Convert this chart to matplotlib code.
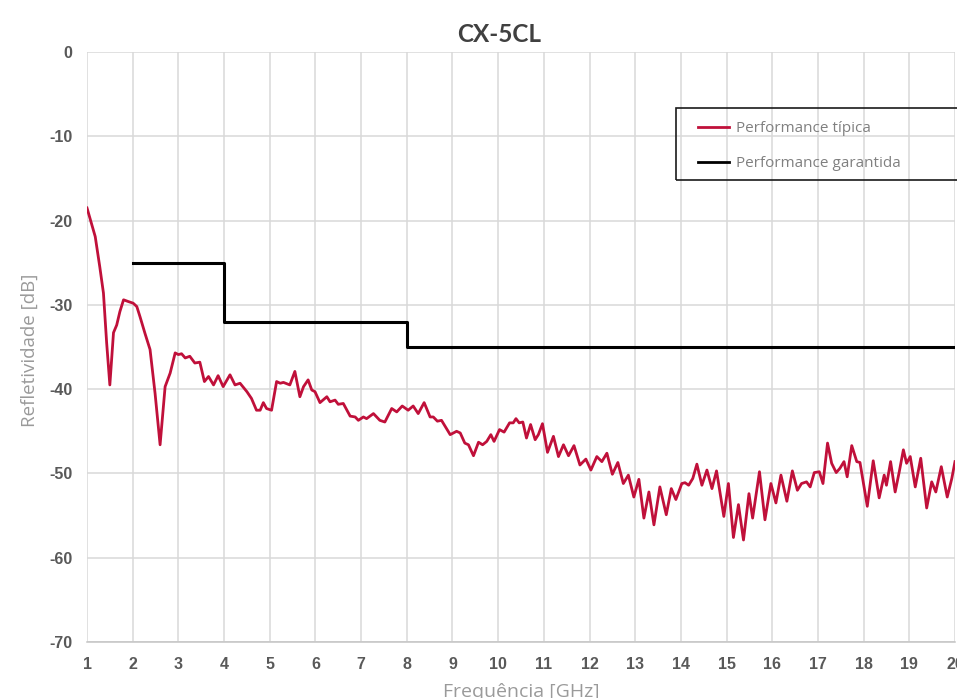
import matplotlib
matplotlib.use("Agg")
import matplotlib.pyplot as plt
from matplotlib.patches import Rectangle


TITLE = "CX-5CL"
X_LABEL = "Frequência [GHz]"
Y_LABEL = "Refletividade [dB]"
LABEL_TYPICAL = "Performance típica"
LABEL_GUARANTEED = "Performance garantida"

X_TICKS = list(range(1, 21))
Y_TICKS = [0, -10, -20, -30, -40, -50, -60, -70]

typical_freq = [
    1.00, 1.18, 1.28, 1.36, 1.43, 1.50, 1.58, 1.65, 1.72, 1.80,
    1.90, 2.01, 2.09, 2.16, 2.27, 2.38, 2.49, 2.60, 2.71, 2.82,
    2.93, 3.00, 3.07, 3.15, 3.25, 3.36, 3.47, 3.57, 3.66, 3.77,
    3.87, 3.98, 4.13, 4.24, 4.35, 4.50, 4.60, 4.71, 4.79, 4.86,
    4.93, 5.04, 5.15, 5.23, 5.30, 5.44, 5.55, 5.66, 5.74, 5.84,
    5.92, 5.99, 6.10, 6.25, 6.32, 6.43, 6.50, 6.61, 6.76, 6.87,
    6.94, 7.05, 7.12, 7.27, 7.41, 7.52, 7.67, 7.78, 7.90, 8.03,
    8.14, 8.25, 8.38, 8.51, 8.58, 8.67, 8.76, 8.95, 9.09, 9.17,
    9.27, 9.35, 9.46, 9.57, 9.66, 9.75, 9.84, 9.91, 10.03, 10.13,
    10.25, 10.33, 10.39, 10.46, 10.54, 10.62, 10.71, 10.81, 10.88, 10.97,
    11.08, 11.21, 11.32, 11.43, 11.54, 11.66, 11.79, 11.92, 12.03, 12.16,
    12.27, 12.38, 12.50, 12.62, 12.74, 12.85, 12.97, 13.08, 13.19, 13.30,
    13.41, 13.54, 13.68, 13.79, 13.89, 14.02, 14.09, 14.17, 14.26, 14.35,
    14.46, 14.57, 14.68, 14.78, 14.94, 15.04, 15.15, 15.26, 15.37, 15.49,
    15.57, 15.72, 15.84, 15.97, 16.08, 16.19, 16.32, 16.44, 16.55, 16.64,
    16.75, 16.83, 16.92, 17.03, 17.11, 17.21, 17.30, 17.40, 17.48, 17.57,
    17.64, 17.74, 17.85, 17.92, 18.08, 18.21, 18.34, 18.45, 18.50, 18.59,
    18.69, 18.78, 18.87, 18.94, 19.02, 19.13, 19.25, 19.38, 19.49, 19.58,
    19.70, 19.83, 19.93, 20.00,
]
typical_db = [
    -18.5, -21.9, -25.5, -28.6, -34.5, -39.5, -33.3, -32.4, -30.8, -29.4,
    -29.6, -29.8, -30.2, -31.4, -33.4, -35.3, -40.5, -46.6, -39.7, -38.1,
    -35.7, -35.9, -35.8, -36.3, -36.1, -36.9, -36.8, -39.1, -38.5, -39.5,
    -38.4, -39.7, -38.3, -39.5, -39.3, -40.3, -41.1, -42.5, -42.5, -41.6,
    -42.3, -42.5, -39.1, -39.3, -39.2, -39.5, -37.9, -40.9, -39.7, -38.9,
    -40.1, -40.3, -41.6, -40.9, -41.5, -41.3, -41.8, -41.7, -43.2, -43.3,
    -43.7, -43.3, -43.5, -42.9, -43.7, -43.9, -42.3, -42.7, -42.0, -42.5,
    -42.0, -42.9, -41.6, -43.3, -43.3, -43.8, -43.7, -45.4, -45.0, -45.2,
    -46.4, -46.6, -47.9, -46.3, -46.6, -46.2, -45.4, -46.2, -44.8, -45.1,
    -44.0, -44.0, -43.5, -44.0, -43.9, -45.8, -44.2, -46.0, -45.4, -44.1,
    -47.5, -45.6, -48.0, -46.6, -47.9, -46.7, -49.0, -48.3, -49.6, -48.0,
    -48.6, -47.6, -50.1, -48.7, -51.2, -50.2, -52.8, -50.7, -55.3, -52.2,
    -56.1, -51.6, -54.9, -51.8, -53.1, -51.2, -51.1, -51.4, -50.6, -48.9,
    -51.4, -49.6, -51.8, -49.7, -55.1, -51.2, -57.6, -53.7, -57.9, -52.4,
    -55.3, -49.8, -55.5, -51.2, -53.5, -50.2, -53.3, -49.7, -52.0, -51.2,
    -51.0, -51.6, -49.9, -49.8, -51.2, -46.4, -48.8, -49.9, -49.4, -48.6,
    -50.4, -46.7, -48.6, -48.7, -53.9, -48.5, -52.9, -50.2, -51.4, -48.6,
    -52.2, -49.8, -47.2, -48.8, -48.0, -51.6, -48.2, -54.1, -51.0, -52.2,
    -49.2, -52.8, -50.6, -48.6,
]

# limite garantido (degraus)
guaranteed_freq = [2, 4, 4, 8, 8, 20]
guaranteed_db = [-25, -25, -32, -32, -35, -35]

RED = "#C0103A"
GRID = "#d9d9d9"
TICK_COLOR = "#595959"
LABEL_COLOR = "#9a9a9a"

W, H = 957, 698


def px_x(x):
    return x / W


def px_y(y):
    return 1 - y / H


def plot_chart() -> None:
    plt.rcParams["axes.unicode_minus"] = False

    fig = plt.figure(figsize=(W / 100, H / 100), dpi=100)
    ax = fig.add_axes([px_x(87), px_y(642), (955 - 87) / W, (642 - 52) / H])

    ax.plot(typical_freq, typical_db, color=RED, linewidth=2.0,
            solid_joinstyle="round", label=LABEL_TYPICAL, zorder=3)
    ax.plot(guaranteed_freq, guaranteed_db, color="black", linewidth=2.2,
            label=LABEL_GUARANTEED, zorder=3)

    ax.set_xlim(1, 20)
    ax.set_ylim(-70, 0)
    ax.set_xticks(X_TICKS)
    ax.set_yticks(Y_TICKS)
    ax.grid(True, color=GRID, linewidth=1.1)
    ax.set_axisbelow(True)
    for side in ["top", "right", "left"]:
        ax.spines[side].set_visible(False)
    ax.spines["bottom"].set_color("#c4c4c4")
    ax.spines["bottom"].set_linewidth(1.1)

    ax.tick_params(length=0, pad=10.5, labelsize=11.5, labelcolor=TICK_COLOR)
    for lab in ax.get_xticklabels() + ax.get_yticklabels():
        lab.set_fontfamily("Liberation Sans")
        lab.set_fontweight("bold")

    fig.text(px_x(499), px_y(42), TITLE, ha="center", va="baseline",
             fontsize=17.5, fontweight="bold", color="#404040", family="Lato")
    fig.text(px_x(521), px_y(697), X_LABEL, ha="center", va="baseline",
             fontsize=14, color=LABEL_COLOR, family="Open Sans")
    fig.text(px_x(30), px_y(350), Y_LABEL, ha="center", va="center",
             rotation=90, fontsize=13.5, color=LABEL_COLOR, family="Open Sans")

    leg = ax.legend(loc="upper left", bbox_to_anchor=(px_x(698), px_y(121)),
                    bbox_transform=fig.transFigure, frameon=False,
                    borderpad=0, borderaxespad=0, handlelength=2.0,
                    handletextpad=0.5, labelspacing=1.3,
                    prop={"family": "Open Sans", "size": 11})
    for text in leg.get_texts():
        text.set_color("#808080")
    for line in leg.get_lines():
        line.set_linewidth(2.0)

    fig.patches.append(Rectangle((px_x(676), px_y(180)), (W + 5 - 676) / W, 72 / H,
                                 transform=fig.transFigure, fill=False,
                                 edgecolor="#1a1a1a", linewidth=1.2))

    fig.savefig("out.png", dpi=100)
    plt.close(fig)


if __name__ == "__main__":
    plot_chart()
